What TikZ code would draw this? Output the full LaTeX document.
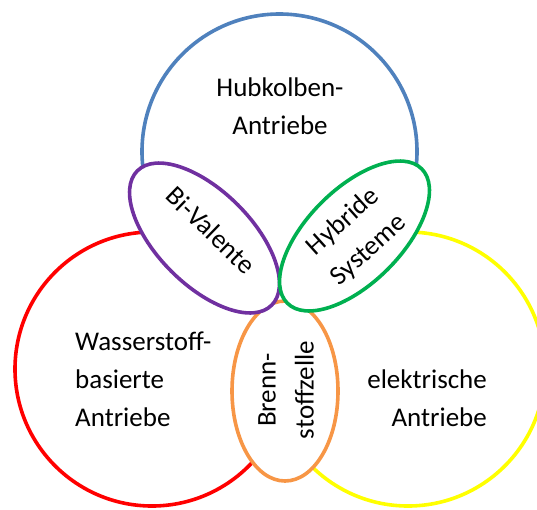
\documentclass[tikz,border=0pt]{standalone}
\usepackage{fontspec}
\setmainfont{Carlito}
\usetikzlibrary{shapes.geometric}

\definecolor{blueC}{HTML}{4F81BD}
\definecolor{redC}{HTML}{FF0000}
\definecolor{yellowC}{HTML}{FFFF00}
\definecolor{purpleC}{HTML}{7030A0}
\definecolor{greenC}{HTML}{00B050}
\definecolor{orangeC}{HTML}{F79646}

\tikzset{
  ring/.style={circle, draw=#1, line width=3.6pt, minimum size=274pt, inner sep=0pt},
  overlap/.style={ellipse, draw=#1, fill=white, line width=3.6pt, inner sep=0pt},
  lbl/.style={font=\fontsize{27}{38}\selectfont, inner sep=0pt},
}

\begin{document}
\begin{tikzpicture}[x=1pt, y=-1pt]
  \useasboundingbox (0,0) rectangle (537,509);
  \clip (0,0) rectangle (537,509);

  % the three main drive families
  \node[ring=blueC, minimum size=275pt] (hub) at (279.5,151.5) {};
  \node[ring=redC] (h2) at (152,369) {};
  \node[ring=yellowC] (el) at (408,369) {};

  % overlap regions
  \node[overlap=orangeC, minimum width=106pt, minimum height=180pt] (bz) at (285,391) {};
  \node[overlap=purpleC, minimum width=190pt, minimum height=94pt, rotate=-45] (bi) at (204.5,238) {};
  \node[overlap=greenC, minimum width=190pt, minimum height=94pt, rotate=45] (hy) at (354.5,236) {};

  % labels
  \node[lbl, align=center] (thub) at (280,106) {Hubkolben-\\Antriebe};
  \node[lbl, align=left, anchor=west] (th2) at (75,379) {Wasserstoff-\\basierte\\Antriebe};
  \node[lbl, align=right, anchor=east] (tel) at (487,398) {elektrische\\Antriebe};
  \node[lbl, align=center, rotate=90] (tbz) at (286,390) {Brenn-\\stoffzelle};
  \node[lbl, rotate=-44] (tbi) at (211,230) {Bi-Valente};
  \node[lbl, align=center, rotate=42] (thy) at (356,236) {Hybride\\Systeme};
\end{tikzpicture}
\end{document}
